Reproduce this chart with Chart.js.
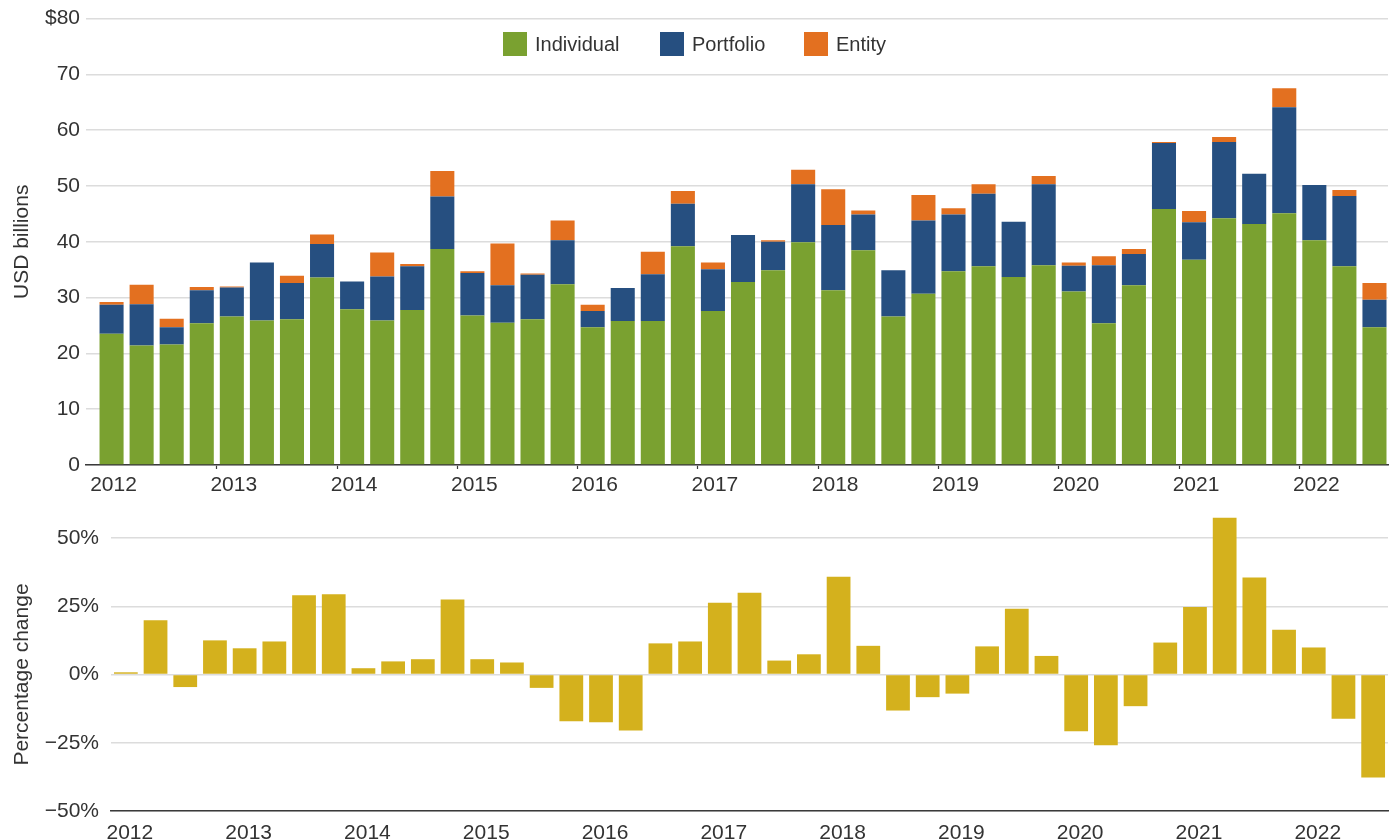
<!DOCTYPE html>
<html>
<head>
<meta charset="utf-8">
<script src="https://cdn.jsdelivr.net/npm/chart.js@4.4.0/dist/chart.umd.min.js"></script>
<style>
  html, body { margin: 0; padding: 0; background: #fff; }
  #wrap { position: relative; width: 1395px; height: 840px; font-family: "Liberation Sans", Arial, sans-serif; color: #333; }
  .panel { position: absolute; left: 0; width: 1395px; }
  #top { top: 0; height: 500px; }
  #bottom { top: 500px; height: 340px; }
  .leg { position: absolute; top: 32px; display: flex; align-items: center; font-size: 20px; line-height: 24px; }
  .leg i { display: inline-block; width: 24px; height: 24px; margin-right: 8px; }
</style>
</head>
<body>
<div id="wrap">
  <div class="panel" id="top"><canvas id="stackChart"></canvas></div>
  <div class="panel" id="bottom"><canvas id="pctChart"></canvas></div>
  <div id="legend"></div>
</div>
<script>
// quarterly volumes, 2012 Q1 .. 2022 Q3 (USD billions)
const years = [2012, 2013, 2014, 2015, 2016, 2017, 2018, 2019, 2020, 2021, 2022];
const quarters = ['Q1', 'Q2', 'Q3', 'Q4'];

const individual = [23.5, 21.4, 21.6, 25.4, 26.6, 25.9, 26.1, 33.6, 27.9, 25.9,
  27.8, 38.7, 26.8, 25.5, 26.1, 32.4, 24.7, 25.8, 25.8, 39.2,
  27.6, 32.8, 34.9, 39.9, 31.3, 38.5, 26.6, 30.7, 34.7, 35.6,
  33.7, 35.8, 31.1, 25.4, 32.2, 45.9, 36.8, 44.2, 43.2, 45.1,
  40.3, 35.6, 24.7];
const portfolio = [5.2, 7.4, 3.1, 5.9, 5.2, 10.4, 6.5, 6.0, 5.0, 7.9,
  7.8, 9.4, 7.6, 6.7, 8.0, 7.9, 2.9, 5.9, 8.4, 7.6,
  7.5, 8.4, 5.1, 10.4, 11.7, 6.4, 8.3, 13.1, 10.2, 13.0,
  9.9, 14.5, 4.6, 10.4, 5.6, 11.8, 6.7, 13.7, 9.0, 19.0,
  9.9, 12.6, 4.9];
const entity = [0.5, 3.5, 1.5, 0.6, 0.2, 0, 1.3, 1.7, 0, 4.3,
  0.4, 4.6, 0.3, 7.5, 0.2, 3.5, 1.1, 0, 4.0, 2.3,
  1.2, 0, 0.3, 2.6, 6.4, 0.7, 0, 4.6, 1.1, 1.7,
  0, 1.5, 0.6, 1.6, 0.9, 0.2, 2.0, 0.9, 0, 3.4,
  0, 1.1, 3.0];
// year-over-year percentage change
const pctChange = [0.8, 19.9, -4.6, 12.5, 9.6, 12.1, 29.0, 29.4, 2.3, 4.8,
  5.6, 27.5, 5.6, 4.4, -4.9, -17.1, -17.5, -20.5, 11.4, 12.1,
  26.3, 29.9, 5.1, 7.4, 35.8, 10.5, -13.2, -8.3, -7.0, 10.3,
  24.1, 6.8, -20.8, -25.9, -11.6, 11.7, 24.7, 57.4, 35.5, 16.4,
  9.9, -16.2, -37.7];

const yTicksTop = [0, 10, 20, 30, 40, 50, 60, 70, 80];
const yTicksPct = [-50, -25, 0, 25, 50];

const labels = [];
years.forEach(y => quarters.forEach(q => labels.push(y + ' ' + q)));
labels.length = individual.length;

const colors = { Individual: '#7aa130', Portfolio: '#264f80', Entity: '#e37020' };
const TXT = '#333';
const GRID = '#dcdcdc';
const AXIS = '#3a3a3a';
const FONT = { family: '"Liberation Sans", Arial, sans-serif', size: 21 };

Chart.defaults.font.family = FONT.family;
Chart.defaults.color = TXT;
Chart.defaults.animation = false;

// legend as html, sits inside the top plot
const legendPos = [503, 660, 804];
document.getElementById('legend').innerHTML = Object.keys(colors).map((k, i) =>
  `<div class="leg" style="left:${legendPos[i]}px"><i style="background:${colors[k]}"></i>${k}</div>`
).join('');

const toXY = arr => arr.map((v, i) => ({ x: i, y: v }));

new Chart(document.getElementById('stackChart'), {
  type: 'bar',
  data: {
    datasets: [
      { label: 'Individual', data: toXY(individual), backgroundColor: colors.Individual },
      { label: 'Portfolio', data: toXY(portfolio), backgroundColor: colors.Portfolio },
      { label: 'Entity', data: toXY(entity), backgroundColor: colors.Entity }
    ]
  },
  options: {
    responsive: true,
    maintainAspectRatio: false,
    layout: { padding: { top: 18, right: 7, left: 0, bottom: 0 } },
    datasets: { bar: { barPercentage: 0.8, categoryPercentage: 1 } },
    plugins: { legend: { display: false }, tooltip: { enabled: false } },
    scales: {
      x: {
        type: 'linear',
        stacked: true,
        offset: false,
        min: -0.85,
        max: 42.45,
        afterBuildTicks: s => { s.ticks = years.map((y, k) => ({ value: k * 4 - 0.5 })); },
        afterFit: s => { s.height = 35; },
        grid: { display: true, offset: false, drawOnChartArea: false, drawTicks: true, tickLength: 4,
          tickColor: ctx => ctx.index === 0 ? 'rgba(0,0,0,0)' : AXIS, tickWidth: 1.2 },
        border: { color: AXIS, width: 1.5 },
        ticks: { autoSkip: false, maxRotation: 0, padding: 4, labelOffset: 17, font: FONT,
          callback: (v, i) => years[i] }
      },
      y: {
        stacked: true,
        min: 0,
        max: 80,
        afterBuildTicks: s => { s.ticks = yTicksTop.map(v => ({ value: v })); },
        afterFit: s => { s.width = 86; },
        grid: { color: GRID, lineWidth: 1.5, drawTicks: false },
        border: { display: false },
        ticks: { padding: 6, font: FONT, callback: v => v === 80 ? '$80' : v },
        title: { display: true, text: 'USD billions', font: FONT, padding: { top: 10, bottom: 0 } }
      }
    }
  }
});

new Chart(document.getElementById('pctChart'), {
  type: 'bar',
  data: {
    labels,
    datasets: [{ label: 'Percentage change', data: pctChange, backgroundColor: '#d4b11d', clip: false }]
  },
  options: {
    responsive: true,
    maintainAspectRatio: false,
    layout: { padding: { top: 38, right: 7, left: 0, bottom: 0 } },
    datasets: { bar: { barPercentage: 0.8, categoryPercentage: 1 } },
    plugins: { legend: { display: false }, tooltip: { enabled: false } },
    scales: {
      x: {
        afterFit: s => { s.height = 29; },
        grid: { display: false },
        border: { color: AXIS, width: 1.5 },
        ticks: { autoSkip: false, maxRotation: 0, padding: 2, labelOffset: 4, font: FONT,
          callback: (v, i) => i % 4 === 0 ? years[i / 4] : '' }
      },
      y: {
        min: -50,
        max: 50,
        afterBuildTicks: s => { s.ticks = yTicksPct.map(v => ({ value: v })); },
        afterFit: s => { s.width = 111; },
        grid: { color: GRID, lineWidth: 1.5, drawTicks: false },
        border: { display: false },
        ticks: { padding: 12, font: FONT, callback: v => (v < 0 ? '\u2212' + Math.abs(v) : v) + '%' },
        title: { display: true, text: 'Percentage change', font: FONT, padding: { top: 10, bottom: 0 } }
      }
    }
  }
});
</script>
</body>
</html>
